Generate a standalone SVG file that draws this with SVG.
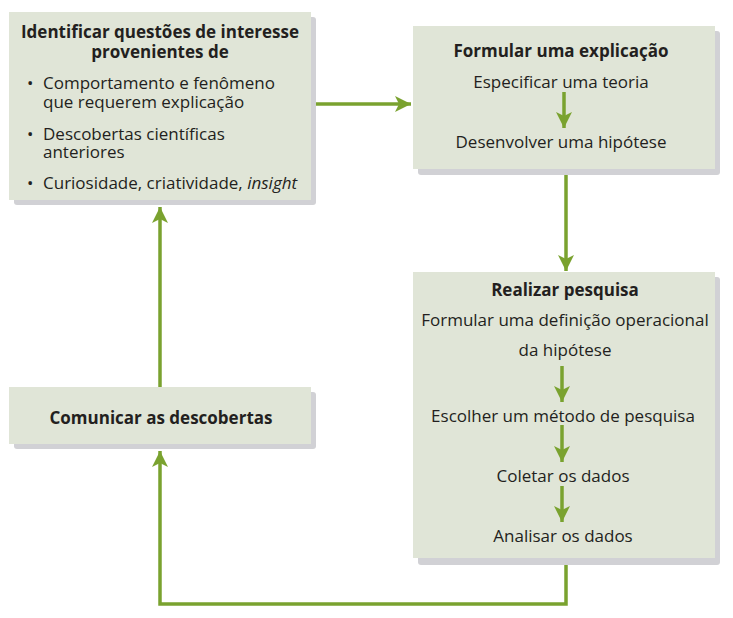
<svg xmlns="http://www.w3.org/2000/svg" width="733" height="618" viewBox="0 0 733 618">
<defs>
<style>
.box{fill:#e0e5d7}
.sh{fill:#d1d1d5}
text{font-family:"Open Sans","Noto Sans",sans-serif;fill:#231f20;font-size:17px}
.t{font-weight:bold;text-anchor:middle}
.c{text-anchor:middle}
.ln{fill:none;stroke:#7aa22f;stroke-width:3.5}
.ar{fill:#7aa22f}
</style>
<marker id="ah" viewBox="0 0 16 16" refX="16" refY="8" markerWidth="16" markerHeight="16" markerUnits="userSpaceOnUse" orient="auto">
<path d="M0,0 L16,8 L0,16 L4,8 Z" class="ar"/>
</marker>
</defs>
<g id="n1">
<rect class="sh" x="14" y="17" width="302" height="188" rx="3"/>
<rect class="box" x="9" y="12" width="302" height="188"/>
<text class="t" x="160" y="38">Identificar questões de interesse<tspan x="160" y="58">provenientes de</tspan></text>
<text x="27" y="89">•<tspan x="43">Comportamento e fenômeno</tspan><tspan x="43" y="108">que requerem explicação</tspan></text>
<text x="27" y="140">•<tspan x="43">Descobertas científicas</tspan><tspan x="43" y="158">anteriores</tspan></text>
<text x="27" y="189">•<tspan x="43">Curiosidade, criatividade, </tspan><tspan font-style="italic">insight</tspan></text>
</g>
<g id="n2">
<rect class="sh" x="418" y="31" width="302" height="144" rx="3"/>
<rect class="box" x="413" y="26" width="302" height="143"/>
<text class="t" x="561" y="57">Formular uma explicação</text>
<text class="c" x="561" y="88">Especificar uma teoria</text>
<text class="c" x="561" y="148">Desenvolver uma hipótese</text>
</g>
<g id="n3">
<rect class="sh" x="418" y="277" width="302" height="288" rx="3"/>
<rect class="box" x="413" y="272" width="302" height="286"/>
<text class="t" x="565" y="296">Realizar pesquisa</text>
<text class="c" x="565" y="326">Formular uma definição operacional<tspan x="565" y="356">da hipótese</tspan></text>
<text class="c" x="563" y="422">Escolher um método de pesquisa</text>
<text class="c" x="563" y="482">Coletar os dados</text>
<text class="c" x="563" y="542">Analisar os dados</text>
</g>
<g id="n4">
<rect class="sh" x="14" y="392" width="302" height="57" rx="3"/>
<rect class="box" x="9" y="387" width="302" height="57"/>
<text class="t" x="161" y="424">Comunicar as descobertas</text>
</g>
<g id="connectors">
<path class="ln" d="M316,104 H411" marker-end="url(#ah)"/>
<path class="ln" d="M566,175 V271" marker-end="url(#ah)"/>
<path class="ln" d="M566,565 V604 H160 V451" marker-end="url(#ah)"/>
<path class="ln" d="M160,387 V207" marker-end="url(#ah)"/>
<path class="ln" d="M564,92 V128" marker-end="url(#ah)"/>
<path class="ln" d="M562,366 V402" marker-end="url(#ah)"/>
<path class="ln" d="M562,425 V462" marker-end="url(#ah)"/>
<path class="ln" d="M562,486 V522" marker-end="url(#ah)"/>
</g>
</svg>
